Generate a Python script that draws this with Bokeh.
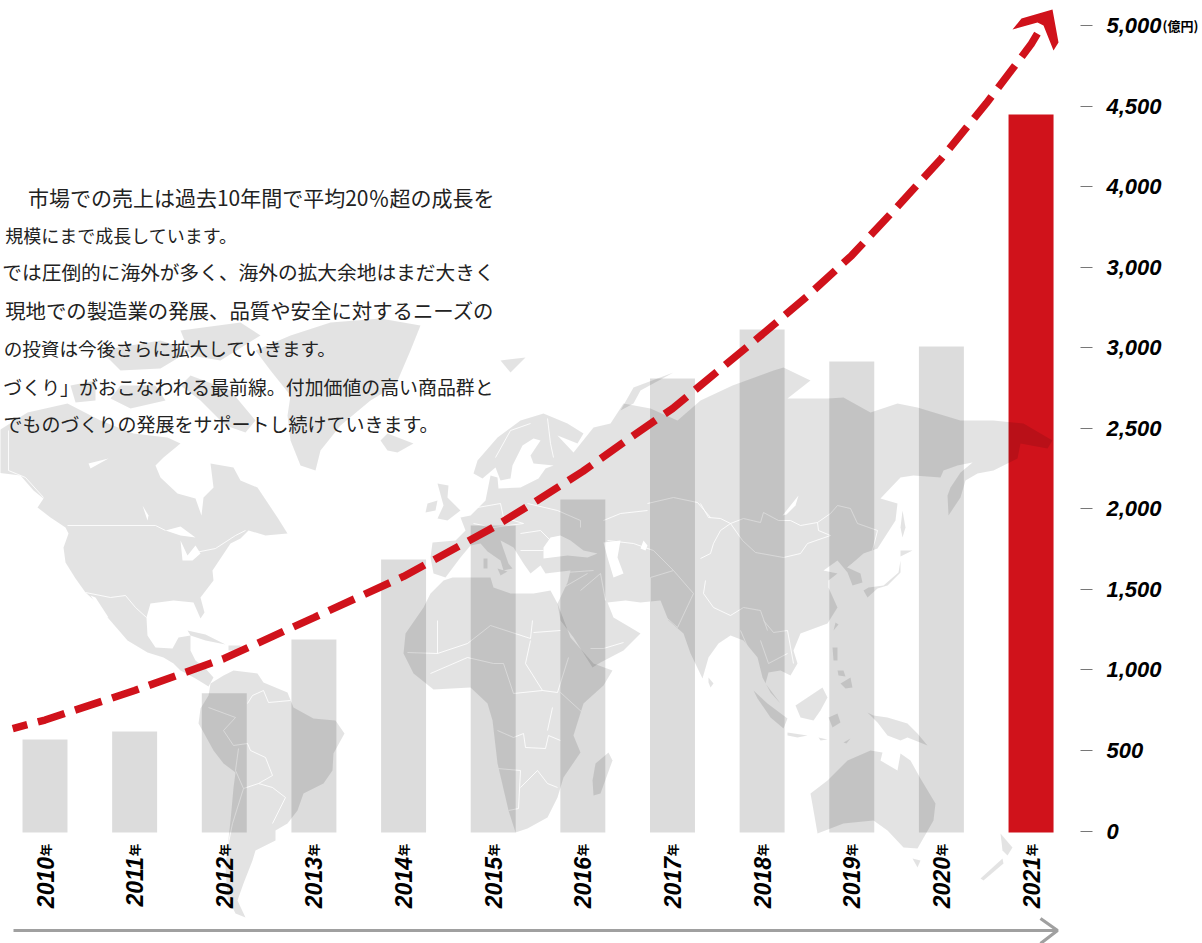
from math import pi
from bokeh.embed import file_html
from bokeh.resources import INLINE
from bokeh.plotting import figure
from bokeh.models import Range1d, LinearAxis, FixedTicker, ColumnDataSource
from bokeh.core.properties import value

# ---- chart data ----
years = [2010, 2011, 2012, 2013, 2014, 2015, 2016, 2017, 2018, 2019, 2020, 2021]
sales = [568, 618, 855, 1189, 1685, 1896, 2058, 2809, 3113, 2914, 3008, 4448]
trend_years = [2009.64, 2010, 2011, 2012, 2013, 2014, 2015, 2015.5, 2016, 2016.5, 2017, 2017.5, 2018, 2018.5, 2019, 2019.5, 2020, 2020.5, 2021, 2021.17]
trend_values = [636, 689, 872, 1071, 1325, 1580, 1884, 2055, 2232, 2430, 2622, 2852, 3082, 3318, 3573, 3870, 4175, 4516, 4883, 5043]
y_ticks = [0, 500, 1000, 1500, 2000, 2500, 3000, 3500, 4000, 4500, 5000]
y_tick_labels = ["0", "500", "1,000", "1,500", "2,000", "2,500", "3,000", "3,000", "4,000", "4,500", "5,000"]
body_lines = [
    "市場での売上は過去10年間で平均20％超の成長を",
    "規模にまで成長しています。",
    "では圧倒的に海外が多く、海外の拡大余地はまだ大きく",
    "現地での製造業の発展、品質や安全に対するニーズの",
    "の投資は今後さらに拡大していきます。",
    "づくり」がおこなわれる最前線。付加価値の高い商品群と",
    "でものづくりの発展をサポートし続けていきます。",
]
body_y = [196, 234, 271, 309, 347, 386, 423]
body_right = [494, 237, 494, 494, 336, 494, 438]
body_size = ["21px", "18px", "19.7px", "20.4px", "18.6px", "18.9px", "19px"]

# ---- background world map outline, in picture pixels ----
land = [
    [(-5,472),(20,475),(33,490),(43,498),(37,507),(50,517),(65,527),(68,533),(63,547),(65,562),(75,578),(85,592),(97,603),(108,618),(127,640),(147,652),(163,657),(173,663),(180,670),(195,678),(208,686),(213,677),(205,668),(195,660),(190,650),(190,635),(178,637),(172,648),(155,647),(147,635),(146,617),(150,603),(173,600),(193,602),(200,618),(204,612),(200,597),(213,580),(212,570),(230,543),(240,538),(248,530),(265,535),(287,533),(277,517),(257,487),(240,480),(233,467),(210,463),(213,487),(203,497),(201,515),(195,498),(177,493),(160,477),(155,465),(163,457),(180,443),(167,437),(133,433),(100,420),(67,403),(27,412),(-5,432)],
    [(330,322),(380,318),(420,325),(410,350),(395,385),(370,400),(340,425),(320,450),(315,470),(300,465),(290,440),(287,415),(290,395),(270,370),(255,350),(290,335)],
    [(190,375),(230,390),(255,420),(245,432),(225,425),(200,400),(180,385)],
    [(120,385),(155,385),(165,400),(130,408),(110,398)],
    [(100,350),(160,340),(190,350),(160,368),(120,370)],
    [(180,330),(240,322),(260,335),(220,360),(190,355)],
    [(70,385),(95,380),(95,400),(75,402)],
    [(187,630),(205,634),(225,644),(205,640),(190,635)],
    [(228,645),(240,645),(240,650),(228,650)],
    [(210,683),(223,675),(233,670),(257,673),(263,682),(287,692),(293,707),(313,718),(335,720),(344,733),(333,753),(332,770),(323,783),(303,793),(297,810),(287,823),(275,830),(275,840),(255,850),(252,860),(243,883),(237,900),(245,917),(235,913),(227,897),(225,867),(227,847),(230,820),(233,787),(235,772),(223,763),(213,750),(202,730),(198,723),(200,708),(208,695)],
    [(443,580),(452,577),(490,577),(493,587),(510,593),(533,593),(550,590),(557,603),(570,637),(593,663),(612,670),(603,685),(583,703),(573,735),(580,752),(563,777),(557,797),(547,817),(527,828),(515,832),(508,810),(497,763),(492,720),(487,703),(470,687),(433,689),(413,673),(403,653),(405,633),(423,607),(430,593)],
    [(608,752),(612,760),(600,793),(593,795),(592,780),(595,763)],
    [(557,603),(567,582),(570,570),(545,573),(540,565),(530,573),(523,563),(513,547),(500,540),(508,563),(512,568),(503,570),(500,560),(487,551),(480,543),(470,545),(460,557),(445,577),(433,573),(430,557),(432,542),(455,540),(465,530),(460,517),(470,515),(485,500),(487,490),(490,475),(497,477),(498,488),(520,487),(538,478),(545,468),(553,465),(533,463),(530,455),(540,440),(533,438),(522,445),(512,465),(510,478),(500,480),(495,467),(482,478),(473,473),(477,460),(497,437),(520,420),(543,413),(567,423),(583,433),(577,443),(557,435),(573,452),(593,427),(610,423),(623,403),(650,408),(677,420),(700,400),(732,385),(773,370),(783,367),(810,380),(787,398),(827,398),(843,397),(870,412),(897,403),(917,407),(960,420),(993,420),(1023,423),(1052,440),(1047,448),(1020,443),(1017,458),(993,470),(977,473),(965,480),(960,497),(948,515),(947,495),(950,487),(960,472),(972,462),(957,465),(943,470),(940,477),(913,475),(900,477),(880,498),(897,503),(895,520),(877,548),(863,553),(847,567),(860,573),(862,582),(852,585),(847,572),(837,560),(823,570),(837,573),(828,580),(828,587),(837,607),(827,623),(800,633),(793,650),(797,663),(790,675),(780,670),(768,672),(765,683),(780,703),(770,692),(762,677),(757,657),(743,640),(730,635),(718,643),(708,657),(702,678),(690,653),(683,633),(668,620),(660,600),(640,602),(625,600),(607,602),(613,617),(630,627),(640,633),(623,650),(600,662),(592,667),(573,637),(560,620)],
    [(437,483),(448,485),(447,497),(460,510),(447,520),(437,518),(443,505)],
    [(427,503),(437,500),(435,510),(425,512)],
    [(380,440),(387,433),(413,443),(397,452),(387,450)],
    [(620,410),(633,387),(673,372),(640,390),(633,403)],
    [(500,360),(525,357),(510,372)],
    [(497,568),(507,571),(500,575)],
    [(483,558),(487,558),(487,568),(483,568)],
    [(708,677),(713,683),(710,687),(708,682)],
    [(753,690),(767,703),(787,718),(783,728),(770,717),(757,698)],
    [(787,732),(807,735),(797,737),(787,735)],
    [(818,737),(827,739),(820,740)],
    [(843,742),(850,738),(846,743)],
    [(795,705),(807,697),(822,687),(827,697),(820,710),(813,720),(800,717)],
    [(828,717),(837,713),(840,722),(832,727)],
    [(832,647),(837,647),(837,660),(833,660)],
    [(840,683),(850,677),(852,687),(845,688)],
    [(837,670),(843,670),(845,676),(838,675)],
    [(867,712),(873,715),(887,717),(907,723),(917,733),(927,745),(907,737),(900,740),(887,735),(877,722)],
    [(810,793),(827,780),(847,760),(870,750),(882,752),(880,760),(897,770),(900,753),(910,760),(920,778),(935,803),(933,820),(917,848),(903,847),(887,830),(873,820),(843,823),(817,833),(813,810)],
    [(912,858),(920,860),(917,867)],
    [(1000,833),(1012,847),(1007,855),(1002,850)],
    [(1002,858),(980,878),(983,880),(1003,863)],
    [(900,560),(898,572),(883,585),(868,587),(863,590),(867,597),(877,588),(887,585),(900,572)],
    [(900,550),(912,550),(900,556)],
    [(902,510),(905,527),(902,537),(900,527)],
    [(835,622),(838,624),(833,630)],
]
water = [
    [(543,547),(550,537),(560,535),(570,540),(583,550),(597,553),(587,557),(567,555),(543,558)],
    [(603,542),(620,540),(617,557),(623,573),(613,577),(607,557)],
    [(643,540),(647,545),(645,550),(640,548)],
    [(798,495),(782,515),(786,514),(795,505)],
    [(165,530),(180,526),(195,537),(180,535)],
    [(180,540),(187,555),(195,545),(200,553),(192,560),(182,560)],
    [(88,463),(108,458),(90,468)],
    [(142,505),(148,515),(147,520)],
    [(90,595),(103,615),(108,617),(95,597)],
]
borders = [
    [(8,430),(8,470),(25,477),(43,497)],
    [(67,525),(155,525),(165,530)],
    [(195,552),(215,548),(235,535),(245,530)],
    [(85,592),(110,597),(125,595),(135,607),(146,617)],
    [(247,703),(252,695),(263,690),(268,702),(290,700)],
    [(208,707),(235,717),(223,730),(233,745),(247,743),(250,750),(265,757),(272,775),(258,783),(272,787),(285,797),(272,823)],
    [(238,748),(235,770),(243,788),(232,823),(227,847)],
    [(243,788),(258,783)],
    [(437,620),(437,653),(467,643),(490,625),(530,638),(532,620)],
    [(533,632),(560,630)],
    [(530,640),(525,663),(542,690),(557,692),(568,657)],
    [(513,693),(542,690)],
    [(497,730),(513,737),(523,733),(525,747),(545,748),(548,735),(560,740)],
    [(552,707),(547,730)],
    [(560,692),(583,713)],
    [(497,768),(520,770),(518,808),(508,810)],
    [(520,787),(537,770),(547,783),(557,787)],
    [(407,652),(437,653)],
    [(430,673),(467,657),(493,663),(503,663),(513,693)],
    [(700,503),(708,517),(720,518),(730,523),(743,518),(760,522),(763,512),(778,520),(790,520),(800,525),(817,522),(830,513),(837,505),(850,508),(857,523),(877,530),(872,550)],
    [(867,552),(847,567)],
    [(730,523),(742,540),(755,552),(783,557),(800,553),(807,543),(830,535),(818,530),(817,522)],
    [(730,523),(720,530),(713,543),(710,553),(700,558)],
    [(705,580),(703,593),(713,607),(730,615),(743,607),(760,610),(767,630)],
    [(647,503),(673,497),(697,502),(710,517)],
    [(603,520),(620,513),(647,510)],
    [(527,503),(557,510),(580,520),(580,527)],
    [(607,540),(633,543),(653,550),(673,570)],
    [(650,577),(650,603),(677,627),(693,593),(673,570),(650,577)],
    [(477,507),(500,503),(503,517),(523,523),(493,527),(473,523)],
    [(495,457),(510,430),(530,423)],
    [(547,418),(550,443),(553,457)],
    [(520,533),(540,530),(550,540)],
    [(520,550),(543,550)],
    [(740,630),(750,653)],
    [(760,640),(768,663),(787,653)],
    [(787,630),(793,663)],
    [(787,630),(773,632),(763,620)],
    [(580,590),(600,573),(605,600)],
    [(563,587),(587,573)],
    [(565,572),(593,570)],
    [(590,648),(603,648),(623,642)],
]
arrow_head = [(1052,9),(1021,18),(1012,29),(1037,22),(1043,25),(1053,50),(1058,42)]
timeline_line = [(13,930),(1056,930)]
timeline_head = [(1040,918),(1057,930),(1040,943)]


def to_x(px):
    return 2010 + (px - 44.5) / 89.64


def to_y(py):
    return (830.5 - py) / 0.1611


def sx(pts):
    return [to_x(a) for a, _ in pts]


def sy(pts):
    return [to_y(b) for _, b in pts]


RED = "#D0121B"
p = figure(width=1202, height=943, output_backend="svg", toolbar_location=None,
           x_range=Range1d(to_x(0), to_x(1202)), y_range=Range1d(to_y(943), to_y(0)),
           x_axis_location=None, y_axis_location=None,
           min_border_left=0, min_border_top=0, min_border_bottom=0, min_border_right=0,
           background_fill_color=None, border_fill_color=None, outline_line_color=None)
p.grid.visible = False

# axes
xax = LinearAxis(ticker=FixedTicker(ticks=years), fixed_location=0,
                 axis_line_color=None, major_tick_line_color=None, minor_tick_line_color=None,
                 major_label_orientation=pi / 2, major_label_standoff=20,
                 major_label_text_font="Liberation Sans", major_label_text_font_style="bold italic",
                 major_label_text_font_size="23px", major_label_text_color="#000000",
                 major_label_overrides={y: str(y) for y in years})
p.add_layout(xax, "below")
yax = LinearAxis(ticker=FixedTicker(ticks=y_ticks), fixed_location=to_x(1080),
                 major_label_overrides=dict(zip(y_ticks, y_tick_labels)),
                 axis_line_color=None, minor_tick_line_color=None,
                 major_tick_in=0, major_tick_out=12, major_tick_line_color="#777777", major_tick_line_width=1,
                 major_label_standoff=14, major_label_text_font="Liberation Sans",
                 major_label_text_font_style="bold italic", major_label_text_font_size="22px",
                 major_label_text_color="#000000")
p.add_layout(yax, "right")

# red bar goes below the translucent map, as in the reference
p.vbar(x=years[-1:], top=sales[-1:], bottom=-9, width=0.502, fill_color=RED, line_color=None)
p.patches([sx(s) for s in land], [sy(s) for s in land], fill_color="#000000", fill_alpha=0.108, line_color=None)
p.patches([sx(s) for s in water], [sy(s) for s in water], fill_color="#FFFFFF", line_color=None)
p.multi_line([sx(s) for s in borders], [sy(s) for s in borders], line_color="#FFFFFF", line_width=1, line_alpha=0.85)
p.vbar(x=years[:-1], top=sales[:-1], bottom=-9, width=0.502, fill_color="#000000", fill_alpha=0.137, line_color=None)

# trend arrow
p.line(trend_years, trend_values, line_color=RED, line_width=7.5, line_dash="28 11", line_dash_offset=13)
p.patch(sx(arrow_head), sy(arrow_head), fill_color=RED, line_color=None)

# timeline arrow
p.line(sx(timeline_line), sy(timeline_line), line_color="#A0A0A0", line_width=3.2)
p.line(sx(timeline_head), sy(timeline_head), line_color="#A0A0A0", line_width=3.2)

# small unit in the year labels
p.text(x=years, y=[0] * len(years), text=["年"] * len(years), angle=pi / 2, y_offset=19,
       text_font=value("Noto Sans CJK JP"), text_font_style="bold", text_font_size="12.5px",
       text_align="center", text_baseline="middle", text_color="#000000")

# body text
body = ColumnDataSource(dict(x=[to_x(v) for v in body_right], y=[to_y(v) for v in body_y],
                             t=body_lines, s=body_size))
p.text(x="x", y="y", text="t", source=body, text_font_size="s",
       text_font=value("Noto Sans CJK JP"), text_color="#222222",
       text_align="right", text_baseline="middle")

# unit next to the top tick
p.text(x=[to_x(1162)], y=[5000], text=["(億円)"], text_font=value("Noto Sans CJK JP"), text_font_style="bold",
       text_font_size="13px", text_color="#000000", text_baseline="middle", text_align="left")

open("out.html", "w").write(file_html(p, INLINE))
